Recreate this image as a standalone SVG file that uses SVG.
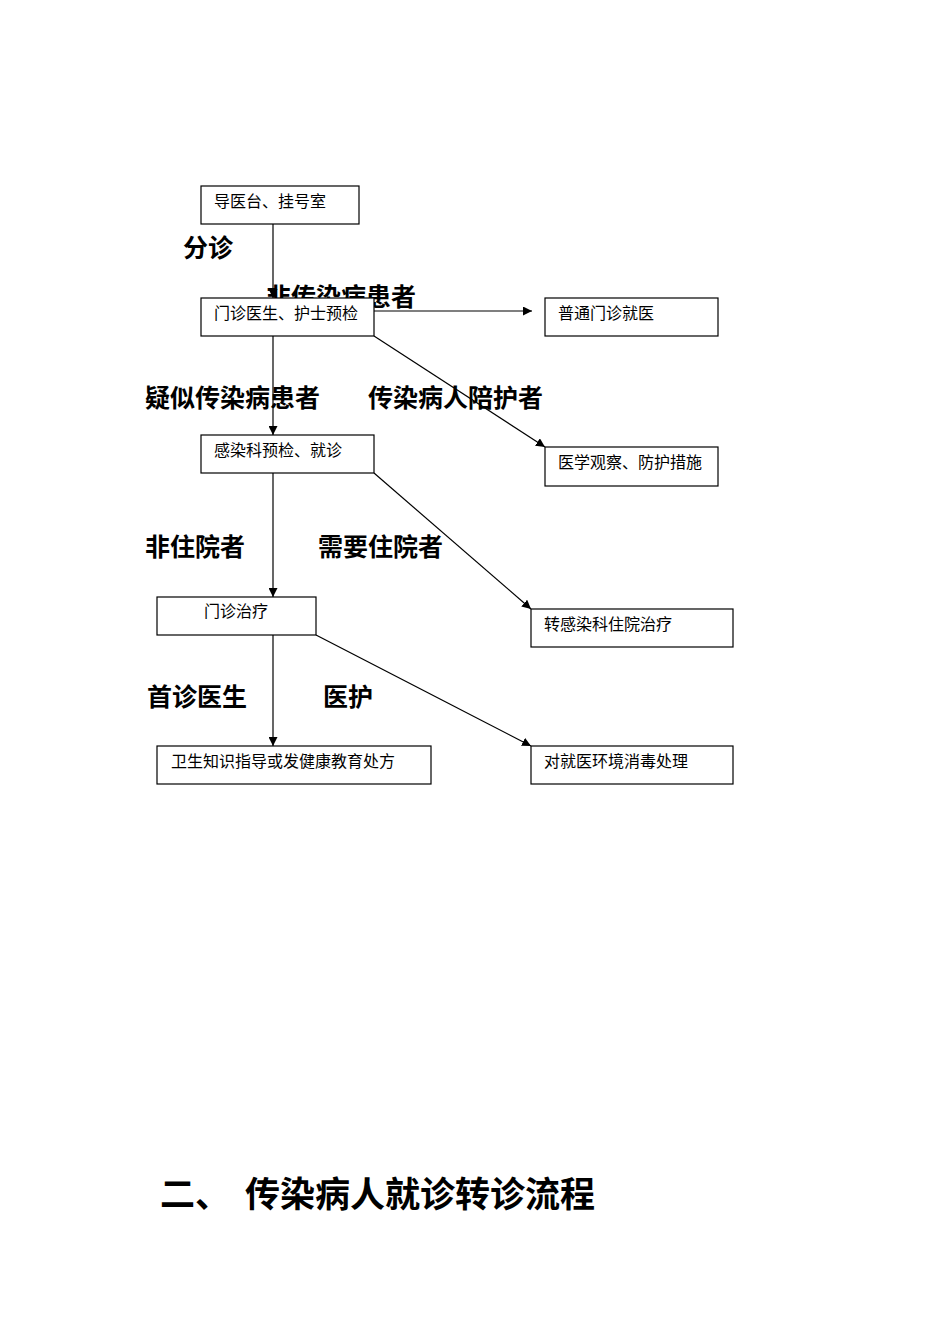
<svg xmlns="http://www.w3.org/2000/svg" width="950" height="1344" viewBox="0 0 950 1344">
<style>
.box{fill:#fff;stroke:#000;stroke-width:1.2}
.nt{font-family:"Liberation Serif","Noto Sans CJK SC",serif;font-size:16px;fill:#000}
.lb{font-family:"Liberation Sans","Noto Sans CJK SC",sans-serif;font-size:25px;font-weight:bold;fill:#000}
.ti{font-family:"Liberation Sans","Noto Sans CJK SC",sans-serif;font-size:35px;font-weight:bold;fill:#000}
.cn{stroke:#000;stroke-width:1.2;fill:none;marker-end:url(#ah)}
</style>
<defs>
<marker id="ah" viewBox="0 0 10 10" refX="10" refY="5" markerWidth="9" markerHeight="9" markerUnits="userSpaceOnUse" orient="auto">
<path d="M0,0 L10,5 L0,10 z" fill="#000"/>
</marker>
</defs>
<rect width="950" height="1344" fill="#fff"/>
<text class="lb" x="183" y="257">分诊</text>
<text class="lb" x="266" y="306">非传染病患者</text>
<g id="connectors">
<line class="cn" x1="273" y1="224" x2="273" y2="298"/>
<line class="cn" x1="374" y1="311" x2="532" y2="311"/>
<line class="cn" x1="374" y1="336" x2="545" y2="447"/>
<line class="cn" x1="273" y1="336" x2="273" y2="435"/>
<line class="cn" x1="374" y1="473" x2="531" y2="609"/>
<line class="cn" x1="273" y1="473" x2="273" y2="597"/>
<line class="cn" x1="273" y1="635" x2="273" y2="746"/>
<line class="cn" x1="316" y1="635" x2="531" y2="746"/>
</g>
<g id="n1"><rect class="box" x="201" y="186" width="158" height="38"/><text class="nt" x="214" y="207">导医台、挂号室</text></g>
<g id="n2"><rect class="box" x="201" y="298" width="173" height="38"/><text class="nt" x="214" y="319">门诊医生、护士预检</text></g>
<g id="n3"><rect class="box" x="545" y="298" width="173" height="38"/><text class="nt" x="558" y="319">普通门诊就医</text></g>
<g id="n4"><rect class="box" x="201" y="435" width="173" height="38"/><text class="nt" x="214" y="456">感染科预检、就诊</text></g>
<g id="n5"><rect class="box" x="545" y="447" width="173" height="39"/><text class="nt" x="558" y="468">医学观察、防护措施</text></g>
<g id="n6"><rect class="box" x="157" y="597" width="159" height="38"/><text class="nt" x="204" y="617">门诊治疗</text></g>
<g id="n7"><rect class="box" x="531" y="609" width="202" height="38"/><text class="nt" x="544" y="630">转感染科住院治疗</text></g>
<g id="n8"><rect class="box" x="157" y="746" width="274" height="38"/><text class="nt" x="171" y="767">卫生知识指导或发健康教育处方</text></g>
<g id="n9"><rect class="box" x="531" y="746" width="202" height="38"/><text class="nt" x="544" y="767">对就医环境消毒处理</text></g>
<text class="lb" x="145" y="407">疑似传染病患者</text>
<text class="lb" x="368" y="407">传染病人陪护者</text>
<text class="lb" x="145" y="556">非住院者</text>
<text class="lb" x="318" y="556">需要住院者</text>
<text class="lb" x="147" y="706">首诊医生</text>
<text class="lb" x="323" y="706">医护</text>
<text class="ti" x="160" y="1207">二、</text>
<text class="ti" x="245" y="1207">传染病人就诊转诊流程</text>
</svg>
